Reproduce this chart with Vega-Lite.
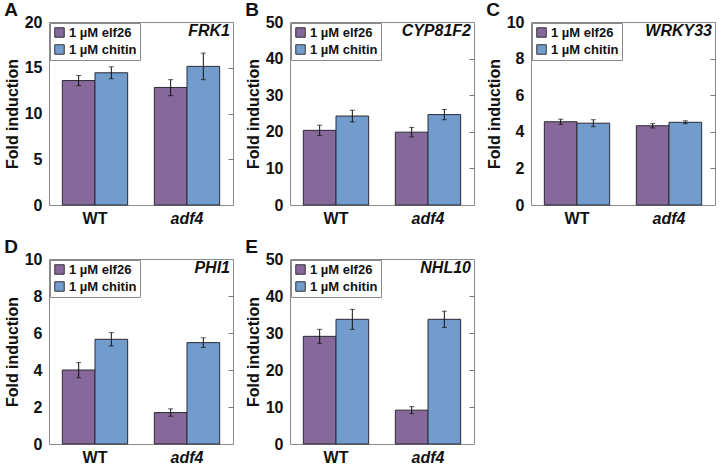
{
  "$schema": "https://vega.github.io/schema/vega-lite/v6.json",
  "padding": {"left": 3, "top": 0, "right": 0, "bottom": 0},
  "background": "white",
  "datasets": {
    "FRK1": [
      {"genotype": "WT", "treatment": "1 µM elf26", "mean": 13.6, "lo": 13.05, "hi": 14.15},
      {"genotype": "WT", "treatment": "1 µM chitin", "mean": 14.45, "lo": 13.8, "hi": 15.1},
      {"genotype": "adf4", "treatment": "1 µM elf26", "mean": 12.85, "lo": 11.95, "hi": 13.7},
      {"genotype": "adf4", "treatment": "1 µM chitin", "mean": 15.15, "lo": 13.7, "hi": 16.6}
    ],
    "CYP81F2": [
      {"genotype": "WT", "treatment": "1 µM elf26", "mean": 20.4, "lo": 19.0, "hi": 21.8},
      {"genotype": "WT", "treatment": "1 µM chitin", "mean": 24.3, "lo": 22.7, "hi": 25.9},
      {"genotype": "adf4", "treatment": "1 µM elf26", "mean": 19.9, "lo": 18.6, "hi": 21.2},
      {"genotype": "adf4", "treatment": "1 µM chitin", "mean": 24.7, "lo": 23.3, "hi": 26.1}
    ],
    "WRKY33": [
      {"genotype": "WT", "treatment": "1 µM elf26", "mean": 4.55, "lo": 4.41, "hi": 4.69},
      {"genotype": "WT", "treatment": "1 µM chitin", "mean": 4.47, "lo": 4.28, "hi": 4.66},
      {"genotype": "adf4", "treatment": "1 µM elf26", "mean": 4.33, "lo": 4.21, "hi": 4.45},
      {"genotype": "adf4", "treatment": "1 µM chitin", "mean": 4.52, "lo": 4.44, "hi": 4.6}
    ],
    "PHI1": [
      {"genotype": "WT", "treatment": "1 µM elf26", "mean": 4.0, "lo": 3.58, "hi": 4.4},
      {"genotype": "WT", "treatment": "1 µM chitin", "mean": 5.66, "lo": 5.3, "hi": 6.02},
      {"genotype": "adf4", "treatment": "1 µM elf26", "mean": 1.7, "lo": 1.5, "hi": 1.9},
      {"genotype": "adf4", "treatment": "1 µM chitin", "mean": 5.48, "lo": 5.22, "hi": 5.74}
    ],
    "NHL10": [
      {"genotype": "WT", "treatment": "1 µM elf26", "mean": 29.1, "lo": 27.2, "hi": 31.0},
      {"genotype": "WT", "treatment": "1 µM chitin", "mean": 33.7, "lo": 31.0, "hi": 36.4},
      {"genotype": "adf4", "treatment": "1 µM elf26", "mean": 9.15, "lo": 8.2, "hi": 10.1},
      {"genotype": "adf4", "treatment": "1 µM chitin", "mean": 33.7, "lo": 31.5, "hi": 35.9}
    ]
  },
  "columns": 3,
  "spacing": {"column": 10, "row": 10},
  "resolve": {"scale": {"color": "independent", "x": "independent", "y": "independent"}, "legend": {"color": "independent"}},
  "concat": [
    {
      "title": {"text": "A"},
      "width": 184, "height": 183,
      "resolve": {"axis": {"y": "independent"}},
      "layer": [
        {"data": {"name": "FRK1"}, "mark": {"type": "bar", "stroke": "#2a2a35", "strokeWidth": 1},
         "encoding": {
           "x": {"field": "genotype", "type": "nominal", "sort": ["WT", "adf4"], "scale": {"paddingInner": 0.29, "paddingOuter": 0.145}, "axis": {"title": null, "labelAngle": 0, "ticks": false, "domain": false, "labelPadding": 5, "labelFontStyle": {"expr": "datum.value == 'adf4' ? 'italic' : 'normal'"}}},
           "xOffset": {"field": "treatment", "type": "nominal", "sort": ["1 µM elf26", "1 µM chitin"]},
           "y": {"field": "mean", "type": "quantitative", "title": "Fold induction", "scale": {"domain": [0, 20], "nice": false}, "axis": {"values": [0, 5, 10, 15, 20], "ticks": false, "domain": false, "labelPadding": 7, "titlePadding": 4}},
           "color": {"field": "treatment", "type": "nominal", "sort": ["1 µM elf26", "1 µM chitin"], "scale": {"domain": ["1 µM elf26", "1 µM chitin"], "range": ["#86699a", "#729ccb"]}, "legend": {"title": null, "orient": "top-left"}}
         }},
        {"data": {"name": "FRK1"}, "mark": {"type": "rule", "color": "#111", "strokeWidth": 1},
         "encoding": {
           "x": {"field": "genotype", "type": "nominal", "sort": ["WT", "adf4"]},
           "xOffset": {"field": "treatment", "type": "nominal", "sort": ["1 µM elf26", "1 µM chitin"]},
           "y": {"field": "lo", "type": "quantitative", "title": "Fold induction", "axis": null},
           "y2": {"field": "hi"}
         }},
        {"data": {"name": "FRK1"}, "mark": {"type": "tick", "color": "#111", "size": 5, "thickness": 1},
         "encoding": {
           "x": {"field": "genotype", "type": "nominal", "sort": ["WT", "adf4"]},
           "xOffset": {"field": "treatment", "type": "nominal", "sort": ["1 µM elf26", "1 µM chitin"]},
           "y": {"field": "lo", "type": "quantitative", "title": "Fold induction", "axis": null}
         }},
        {"data": {"name": "FRK1"}, "mark": {"type": "tick", "color": "#111", "size": 5, "thickness": 1},
         "encoding": {
           "x": {"field": "genotype", "type": "nominal", "sort": ["WT", "adf4"]},
           "xOffset": {"field": "treatment", "type": "nominal", "sort": ["1 µM elf26", "1 µM chitin"]},
           "y": {"field": "hi", "type": "quantitative", "title": "Fold induction", "axis": {"orient": "right", "values": [5, 10, 15], "labels": false, "ticks": true, "tickSize": -5, "tickColor": "#777", "domain": false, "title": null}}
         }},
        {"data": {"values": [{"g": "FRK1"}]}, "mark": {"type": "text", "align": "right", "baseline": "alphabetic", "dx": -3, "fontSize": 16, "fontWeight": "bold", "fontStyle": "italic", "color": "#111"},
         "encoding": {"text": {"field": "g"}, "x": {"value": "width"}, "y": {"datum": 18.5, "type": "quantitative", "axis": null}}}
      ]
    },
    {
      "title": {"text": "B"},
      "width": 184, "height": 183,
      "resolve": {"axis": {"y": "independent"}},
      "layer": [
        {"data": {"name": "CYP81F2"}, "mark": {"type": "bar", "stroke": "#2a2a35", "strokeWidth": 1},
         "encoding": {
           "x": {"field": "genotype", "type": "nominal", "sort": ["WT", "adf4"], "scale": {"paddingInner": 0.29, "paddingOuter": 0.145}, "axis": {"title": null, "labelAngle": 0, "ticks": false, "domain": false, "labelPadding": 5, "labelFontStyle": {"expr": "datum.value == 'adf4' ? 'italic' : 'normal'"}}},
           "xOffset": {"field": "treatment", "type": "nominal", "sort": ["1 µM elf26", "1 µM chitin"]},
           "y": {"field": "mean", "type": "quantitative", "title": "Fold induction", "scale": {"domain": [0, 50], "nice": false}, "axis": {"values": [0, 10, 20, 30, 40, 50], "ticks": false, "domain": false, "labelPadding": 7, "titlePadding": 4}},
           "color": {"field": "treatment", "type": "nominal", "sort": ["1 µM elf26", "1 µM chitin"], "scale": {"domain": ["1 µM elf26", "1 µM chitin"], "range": ["#86699a", "#729ccb"]}, "legend": {"title": null, "orient": "top-left"}}
         }},
        {"data": {"name": "CYP81F2"}, "mark": {"type": "rule", "color": "#111", "strokeWidth": 1},
         "encoding": {
           "x": {"field": "genotype", "type": "nominal", "sort": ["WT", "adf4"]},
           "xOffset": {"field": "treatment", "type": "nominal", "sort": ["1 µM elf26", "1 µM chitin"]},
           "y": {"field": "lo", "type": "quantitative", "title": "Fold induction", "axis": null},
           "y2": {"field": "hi"}
         }},
        {"data": {"name": "CYP81F2"}, "mark": {"type": "tick", "color": "#111", "size": 5, "thickness": 1},
         "encoding": {
           "x": {"field": "genotype", "type": "nominal", "sort": ["WT", "adf4"]},
           "xOffset": {"field": "treatment", "type": "nominal", "sort": ["1 µM elf26", "1 µM chitin"]},
           "y": {"field": "lo", "type": "quantitative", "title": "Fold induction", "axis": null}
         }},
        {"data": {"name": "CYP81F2"}, "mark": {"type": "tick", "color": "#111", "size": 5, "thickness": 1},
         "encoding": {
           "x": {"field": "genotype", "type": "nominal", "sort": ["WT", "adf4"]},
           "xOffset": {"field": "treatment", "type": "nominal", "sort": ["1 µM elf26", "1 µM chitin"]},
           "y": {"field": "hi", "type": "quantitative", "title": "Fold induction", "axis": {"orient": "right", "values": [10, 20, 30, 40], "labels": false, "ticks": true, "tickSize": -5, "tickColor": "#777", "domain": false, "title": null}}
         }},
        {"data": {"values": [{"g": "CYP81F2"}]}, "mark": {"type": "text", "align": "right", "baseline": "alphabetic", "dx": -3, "fontSize": 16, "fontWeight": "bold", "fontStyle": "italic", "color": "#111"},
         "encoding": {"text": {"field": "g"}, "x": {"value": "width"}, "y": {"datum": 46.2, "type": "quantitative", "axis": null}}}
      ]
    },
    {
      "title": {"text": "C"},
      "width": 184, "height": 183,
      "resolve": {"axis": {"y": "independent"}},
      "layer": [
        {"data": {"name": "WRKY33"}, "mark": {"type": "bar", "stroke": "#2a2a35", "strokeWidth": 1},
         "encoding": {
           "x": {"field": "genotype", "type": "nominal", "sort": ["WT", "adf4"], "scale": {"paddingInner": 0.29, "paddingOuter": 0.145}, "axis": {"title": null, "labelAngle": 0, "ticks": false, "domain": false, "labelPadding": 5, "labelFontStyle": {"expr": "datum.value == 'adf4' ? 'italic' : 'normal'"}}},
           "xOffset": {"field": "treatment", "type": "nominal", "sort": ["1 µM elf26", "1 µM chitin"]},
           "y": {"field": "mean", "type": "quantitative", "title": "Fold induction", "scale": {"domain": [0, 10], "nice": false}, "axis": {"values": [0, 2, 4, 6, 8, 10], "ticks": false, "domain": false, "labelPadding": 7, "titlePadding": 4}},
           "color": {"field": "treatment", "type": "nominal", "sort": ["1 µM elf26", "1 µM chitin"], "scale": {"domain": ["1 µM elf26", "1 µM chitin"], "range": ["#86699a", "#729ccb"]}, "legend": {"title": null, "orient": "top-left"}}
         }},
        {"data": {"name": "WRKY33"}, "mark": {"type": "rule", "color": "#111", "strokeWidth": 1},
         "encoding": {
           "x": {"field": "genotype", "type": "nominal", "sort": ["WT", "adf4"]},
           "xOffset": {"field": "treatment", "type": "nominal", "sort": ["1 µM elf26", "1 µM chitin"]},
           "y": {"field": "lo", "type": "quantitative", "title": "Fold induction", "axis": null},
           "y2": {"field": "hi"}
         }},
        {"data": {"name": "WRKY33"}, "mark": {"type": "tick", "color": "#111", "size": 5, "thickness": 1},
         "encoding": {
           "x": {"field": "genotype", "type": "nominal", "sort": ["WT", "adf4"]},
           "xOffset": {"field": "treatment", "type": "nominal", "sort": ["1 µM elf26", "1 µM chitin"]},
           "y": {"field": "lo", "type": "quantitative", "title": "Fold induction", "axis": null}
         }},
        {"data": {"name": "WRKY33"}, "mark": {"type": "tick", "color": "#111", "size": 5, "thickness": 1},
         "encoding": {
           "x": {"field": "genotype", "type": "nominal", "sort": ["WT", "adf4"]},
           "xOffset": {"field": "treatment", "type": "nominal", "sort": ["1 µM elf26", "1 µM chitin"]},
           "y": {"field": "hi", "type": "quantitative", "title": "Fold induction", "axis": {"orient": "right", "values": [2, 4, 6, 8], "labels": false, "ticks": true, "tickSize": -5, "tickColor": "#777", "domain": false, "title": null}}
         }},
        {"data": {"values": [{"g": "WRKY33"}]}, "mark": {"type": "text", "align": "right", "baseline": "alphabetic", "dx": -3, "fontSize": 16, "fontWeight": "bold", "fontStyle": "italic", "color": "#111"},
         "encoding": {"text": {"field": "g"}, "x": {"value": "width"}, "y": {"datum": 9.24, "type": "quantitative", "axis": null}}}
      ]
    },
    {
      "title": {"text": "D"},
      "width": 184, "height": 185,
      "resolve": {"axis": {"y": "independent"}},
      "layer": [
        {"data": {"name": "PHI1"}, "mark": {"type": "bar", "stroke": "#2a2a35", "strokeWidth": 1},
         "encoding": {
           "x": {"field": "genotype", "type": "nominal", "sort": ["WT", "adf4"], "scale": {"paddingInner": 0.29, "paddingOuter": 0.145}, "axis": {"title": null, "labelAngle": 0, "ticks": false, "domain": false, "labelPadding": 5, "labelFontStyle": {"expr": "datum.value == 'adf4' ? 'italic' : 'normal'"}}},
           "xOffset": {"field": "treatment", "type": "nominal", "sort": ["1 µM elf26", "1 µM chitin"]},
           "y": {"field": "mean", "type": "quantitative", "title": "Fold induction", "scale": {"domain": [0, 10], "nice": false}, "axis": {"values": [0, 2, 4, 6, 8, 10], "ticks": false, "domain": false, "labelPadding": 7, "titlePadding": 4}},
           "color": {"field": "treatment", "type": "nominal", "sort": ["1 µM elf26", "1 µM chitin"], "scale": {"domain": ["1 µM elf26", "1 µM chitin"], "range": ["#86699a", "#729ccb"]}, "legend": {"title": null, "orient": "top-left"}}
         }},
        {"data": {"name": "PHI1"}, "mark": {"type": "rule", "color": "#111", "strokeWidth": 1},
         "encoding": {
           "x": {"field": "genotype", "type": "nominal", "sort": ["WT", "adf4"]},
           "xOffset": {"field": "treatment", "type": "nominal", "sort": ["1 µM elf26", "1 µM chitin"]},
           "y": {"field": "lo", "type": "quantitative", "title": "Fold induction", "axis": null},
           "y2": {"field": "hi"}
         }},
        {"data": {"name": "PHI1"}, "mark": {"type": "tick", "color": "#111", "size": 5, "thickness": 1},
         "encoding": {
           "x": {"field": "genotype", "type": "nominal", "sort": ["WT", "adf4"]},
           "xOffset": {"field": "treatment", "type": "nominal", "sort": ["1 µM elf26", "1 µM chitin"]},
           "y": {"field": "lo", "type": "quantitative", "title": "Fold induction", "axis": null}
         }},
        {"data": {"name": "PHI1"}, "mark": {"type": "tick", "color": "#111", "size": 5, "thickness": 1},
         "encoding": {
           "x": {"field": "genotype", "type": "nominal", "sort": ["WT", "adf4"]},
           "xOffset": {"field": "treatment", "type": "nominal", "sort": ["1 µM elf26", "1 µM chitin"]},
           "y": {"field": "hi", "type": "quantitative", "title": "Fold induction", "axis": {"orient": "right", "values": [2, 4, 6, 8], "labels": false, "ticks": true, "tickSize": -5, "tickColor": "#777", "domain": false, "title": null}}
         }},
        {"data": {"values": [{"g": "PHI1"}]}, "mark": {"type": "text", "align": "right", "baseline": "alphabetic", "dx": -3, "fontSize": 16, "fontWeight": "bold", "fontStyle": "italic", "color": "#111"},
         "encoding": {"text": {"field": "g"}, "x": {"value": "width"}, "y": {"datum": 9.24, "type": "quantitative", "axis": null}}}
      ]
    },
    {
      "title": {"text": "E"},
      "width": 184, "height": 185,
      "resolve": {"axis": {"y": "independent"}},
      "layer": [
        {"data": {"name": "NHL10"}, "mark": {"type": "bar", "stroke": "#2a2a35", "strokeWidth": 1},
         "encoding": {
           "x": {"field": "genotype", "type": "nominal", "sort": ["WT", "adf4"], "scale": {"paddingInner": 0.29, "paddingOuter": 0.145}, "axis": {"title": null, "labelAngle": 0, "ticks": false, "domain": false, "labelPadding": 5, "labelFontStyle": {"expr": "datum.value == 'adf4' ? 'italic' : 'normal'"}}},
           "xOffset": {"field": "treatment", "type": "nominal", "sort": ["1 µM elf26", "1 µM chitin"]},
           "y": {"field": "mean", "type": "quantitative", "title": "Fold induction", "scale": {"domain": [0, 50], "nice": false}, "axis": {"values": [0, 10, 20, 30, 40, 50], "ticks": false, "domain": false, "labelPadding": 7, "titlePadding": 4}},
           "color": {"field": "treatment", "type": "nominal", "sort": ["1 µM elf26", "1 µM chitin"], "scale": {"domain": ["1 µM elf26", "1 µM chitin"], "range": ["#86699a", "#729ccb"]}, "legend": {"title": null, "orient": "top-left"}}
         }},
        {"data": {"name": "NHL10"}, "mark": {"type": "rule", "color": "#111", "strokeWidth": 1},
         "encoding": {
           "x": {"field": "genotype", "type": "nominal", "sort": ["WT", "adf4"]},
           "xOffset": {"field": "treatment", "type": "nominal", "sort": ["1 µM elf26", "1 µM chitin"]},
           "y": {"field": "lo", "type": "quantitative", "title": "Fold induction", "axis": null},
           "y2": {"field": "hi"}
         }},
        {"data": {"name": "NHL10"}, "mark": {"type": "tick", "color": "#111", "size": 5, "thickness": 1},
         "encoding": {
           "x": {"field": "genotype", "type": "nominal", "sort": ["WT", "adf4"]},
           "xOffset": {"field": "treatment", "type": "nominal", "sort": ["1 µM elf26", "1 µM chitin"]},
           "y": {"field": "lo", "type": "quantitative", "title": "Fold induction", "axis": null}
         }},
        {"data": {"name": "NHL10"}, "mark": {"type": "tick", "color": "#111", "size": 5, "thickness": 1},
         "encoding": {
           "x": {"field": "genotype", "type": "nominal", "sort": ["WT", "adf4"]},
           "xOffset": {"field": "treatment", "type": "nominal", "sort": ["1 µM elf26", "1 µM chitin"]},
           "y": {"field": "hi", "type": "quantitative", "title": "Fold induction", "axis": {"orient": "right", "values": [10, 20, 30, 40], "labels": false, "ticks": true, "tickSize": -5, "tickColor": "#777", "domain": false, "title": null}}
         }},
        {"data": {"values": [{"g": "NHL10"}]}, "mark": {"type": "text", "align": "right", "baseline": "alphabetic", "dx": -3, "fontSize": 16, "fontWeight": "bold", "fontStyle": "italic", "color": "#111"},
         "encoding": {"text": {"field": "g"}, "x": {"value": "width"}, "y": {"datum": 46.2, "type": "quantitative", "axis": null}}}
      ]
    }
  ],
  "config": {
    "font": "Liberation Sans",
    "view": {"stroke": "#8a8a8a", "strokeWidth": 1},
    "title": {"anchor": "start", "frame": "bounds", "fontSize": 19, "fontWeight": "bold", "color": "#111", "offset": -6, "font": "Liberation Sans"},
    "axis": {"grid": false, "labelFont": "Liberation Sans", "labelFontSize": 16, "labelFontWeight": "bold", "labelColor": "#111", "titleFont": "Liberation Sans", "titleFontSize": 16, "titleFontWeight": "bold", "titleColor": "#111"},
    "legend": {"strokeColor": "#888", "fillColor": "white", "padding": 3, "offset": 1, "labelFont": "Liberation Sans", "labelFontSize": 13, "labelFontWeight": "bold", "labelColor": "#111", "symbolType": "square", "symbolSize": 90, "symbolStrokeColor": "#333", "symbolStrokeWidth": 1, "symbolOpacity": 1, "rowPadding": 2, "labelOffset": 3, "cornerRadius": 0}
  }
}
